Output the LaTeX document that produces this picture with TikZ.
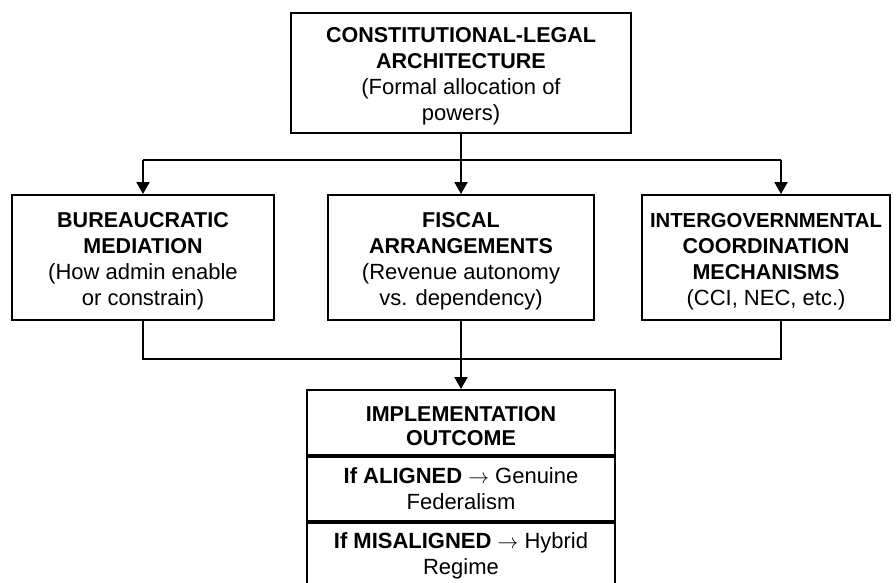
\documentclass[tikz,border=0pt]{standalone}
\usepackage{fontspec}
\setmainfont{Liberation Sans}
\usetikzlibrary{arrows.meta,calc}
\newcommand{\hb}[1]{{\fontsize{21.5}{26}\selectfont\bfseries #1}}
\newcommand{\tp}{\rule{0pt}{22pt}}
\newcommand{\ra}{{\fontsize{20}{26}\selectfont$\rightarrow$}}
\begin{document}
\begin{tikzpicture}[x=1pt,y=-1pt,
  box/.style={draw=black,line width=2pt,fill=white,align=center,inner sep=0pt,
    font=\fontsize{22}{26}\selectfont},
  conn/.style={draw=black,line width=2pt},
  arr/.style={conn,-{Triangle[length=12pt,width=13pt]}}]
\useasboundingbox (0,0) rectangle (896,582);
\fill[white] (0,0) rectangle (896,582);
\begin{scope}
\clip (0,0) rectangle (896,582);
\node[box,minimum width=340pt,minimum height=120pt] (top) at (461,72.5)
  {\tp\hb{CONSTITUTIONAL-LEGAL}\\\hb{ARCHITECTURE}\\(Formal allocation of\\powers)};
\node[box,minimum width=262pt,minimum height=125pt] (left) at (143,257.5)
  {\tp\hb{BUREAUCRATIC}\\\hb{MEDIATION}\\(How admin enable\\or constrain)};
\node[box,minimum width=266pt,minimum height=125pt] (mid) at (461,257.5)
  {\tp\hb{FISCAL}\\\hb{ARRANGEMENTS}\\(Revenue autonomy\\vs. dependency)};
\node[box,minimum width=248pt,minimum height=125pt] (right) at (766,257.5)
  {\tp{\fontsize{20.3}{26}\selectfont\bfseries INTERGOVERNMENTAL}\\\hb{COORDINATION}\\\hb{MECHANISMS}\\(CCI, NEC, etc.)};
\node[box,minimum width=308pt,minimum height=65pt] (impl) at (461,422.5)
  {\tp\hb{IMPLEMENTATION}\\[-2pt]\hb{OUTCOME}};
\node[box,minimum width=308pt,minimum height=64pt,anchor=north] (align) at (impl.south)
  {\textbf{If ALIGNED} \ra{} Genuine\\Federalism};
\node[box,minimum width=308pt,minimum height=66pt,anchor=north] (misalign) at (align.south)
  {\textbf{If MISALIGNED} \ra{} Hybrid\\Regime};
\coordinate (rt) at ($(right.north)+(15,0)$);
\coordinate (rb) at ($(right.south)+(15,0)$);
\draw[conn] (top.south) -- ++(0,26) coordinate (j1);
\draw[conn] (left.north |- j1) -- (rt |- j1);
\draw[arr] (left.north |- j1) -- (left.north);
\draw[arr] (j1) -- (mid.north);
\draw[arr] (rt |- j1) -- (rt);
\draw[conn] (mid.south) -- ++(0,38) coordinate (j2);
\draw[conn] (left.south) -- (left.south |- j2) -- (rb |- j2) -- (rb);
\draw[arr] (j2) -- (impl.north);
\end{scope}
\end{tikzpicture}
\end{document}
